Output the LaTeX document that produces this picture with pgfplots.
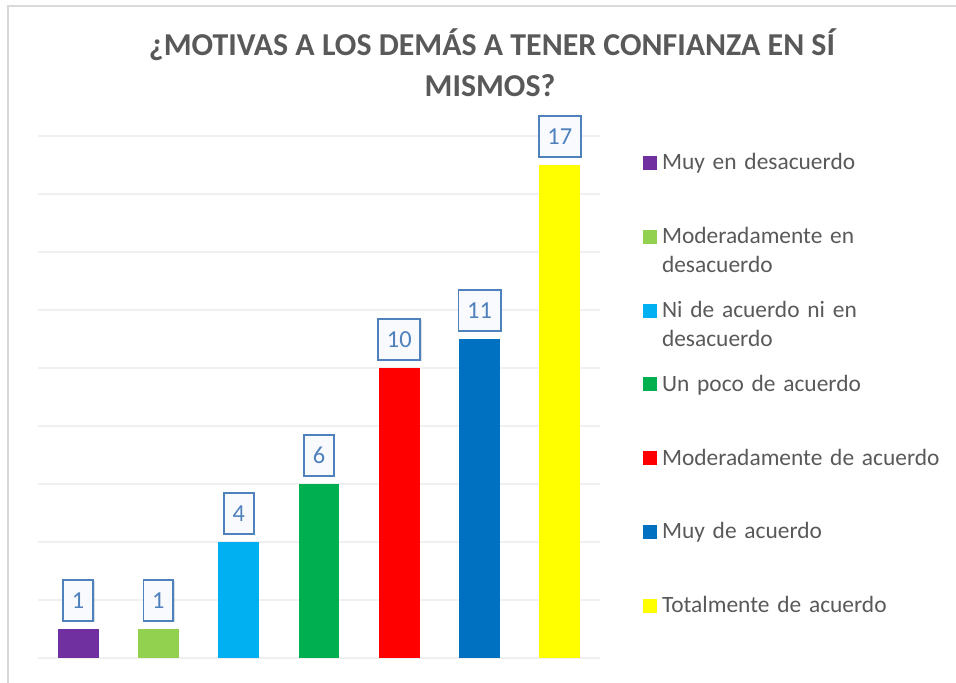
\documentclass[border=0pt]{standalone}
\usepackage{pgfplots}
\pgfplotsset{compat=1.18}
\usepackage{fontspec}
\setmainfont{Carlito}
\usetikzlibrary{shadows}
\hyphenpenalty=10000
\exhyphenpenalty=10000
\definecolor{cPurple}{HTML}{7030A0}
\definecolor{cLGreen}{HTML}{92D050}
\definecolor{cLBlue}{HTML}{00B0F0}
\definecolor{cGreen}{HTML}{00B050}
\definecolor{cRed}{HTML}{FF0000}
\definecolor{cBlue}{HTML}{0070C0}
\definecolor{cYellow}{HTML}{FFFF00}
\definecolor{lblBlue}{HTML}{4F81BD}
\definecolor{lblFill}{HTML}{F8FAFD}
\definecolor{txtGray}{HTML}{595959}
\definecolor{frameGray}{HTML}{D9D9D9}
\definecolor{gridGray}{HTML}{F0F0F0}
\begin{document}
\begin{tikzpicture}[x=1bp,y=1bp]
\path[use as bounding box] (0,0) rectangle (956,683);
\draw[frameGray, line width=1.7bp] (8.3,0) -- (8.3,677) -- (956,677);
\node[anchor=base, inner sep=0pt, font=\fontsize{32}{38}\selectfont\bfseries, text=txtGray] at (492,627) {¿MOTIVAS A LOS DEMÁS A TENER CONFIANZA EN SÍ};
\node[anchor=base, inner sep=0pt, font=\fontsize{32}{38}\selectfont\bfseries, text=txtGray] at (490,586) {MISMOS?};
\begin{axis}[
  at={(38bp,25bp)}, anchor=south west,
  scale only axis, width=562bp, height=522bp,
  xmin=-0.5, xmax=6.5, ymin=0, ymax=18,
  axis line style={draw=none}, tick style={draw=none},
  ytick={0,2,...,18}, yticklabels={}, xtick=\empty, major tick length=0pt,
  ymajorgrids, grid style={gridGray, line width=1.5bp},
  clip=false,
  /pgf/number format/assume math mode=true,
  ybar, bar width=0.51, bar shift=0,
  nodes near coords,
  every node near coord/.append style={draw=lblBlue, line width=1.8bp, fill=lblFill,
    text=lblBlue, font=\fontsize{24.5}{24.5}\selectfont, inner xsep=8.7bp, inner ysep=0pt,
    minimum height=41bp, anchor=south, outer sep=0pt, yshift=8bp,
    drop shadow={shadow xshift=1.5bp, shadow yshift=-1.5bp, opacity=0.25, fill=lblBlue!50!gray}},
  legend cell align=left,
  legend style={at={(1.076,0.9617)}, anchor=north west, draw=none, fill=none,
    inner sep=0pt, outer sep=0pt, column sep=5.3bp, row sep=0pt,
    nodes={inner sep=0pt, text width=286bp, align=left, text height=14bp, text depth=59.8bp,
      font=\fontsize{23.5}{29}\selectfont, text=txtGray}},
  legend image code/.code={\fill[#1] (0bp,22.9bp) rectangle (14bp,36.9bp);},
]
\addplot[fill=cPurple, draw=none] coordinates {(0,1)};
\addlegendentry{Muy en desacuerdo}
\addplot[fill=cLGreen, draw=none] coordinates {(1,1)};
\addlegendentry{Moderadamente en desacuerdo}
\addplot[fill=cLBlue, draw=none] coordinates {(2,4)};
\addlegendentry{Ni de acuerdo ni en desacuerdo}
\addplot[fill=cGreen, draw=none] coordinates {(3,6)};
\addlegendentry{Un poco de acuerdo}
\addplot[fill=cRed, draw=none] coordinates {(4,10)};
\addlegendentry{Moderadamente de acuerdo}
\addplot[fill=cBlue, draw=none] coordinates {(5,11)};
\addlegendentry{Muy de acuerdo}
\addplot[fill=cYellow, draw=none] coordinates {(6,17)};
\addlegendentry{Totalmente de acuerdo}
\end{axis}
\end{tikzpicture}
\end{document}
